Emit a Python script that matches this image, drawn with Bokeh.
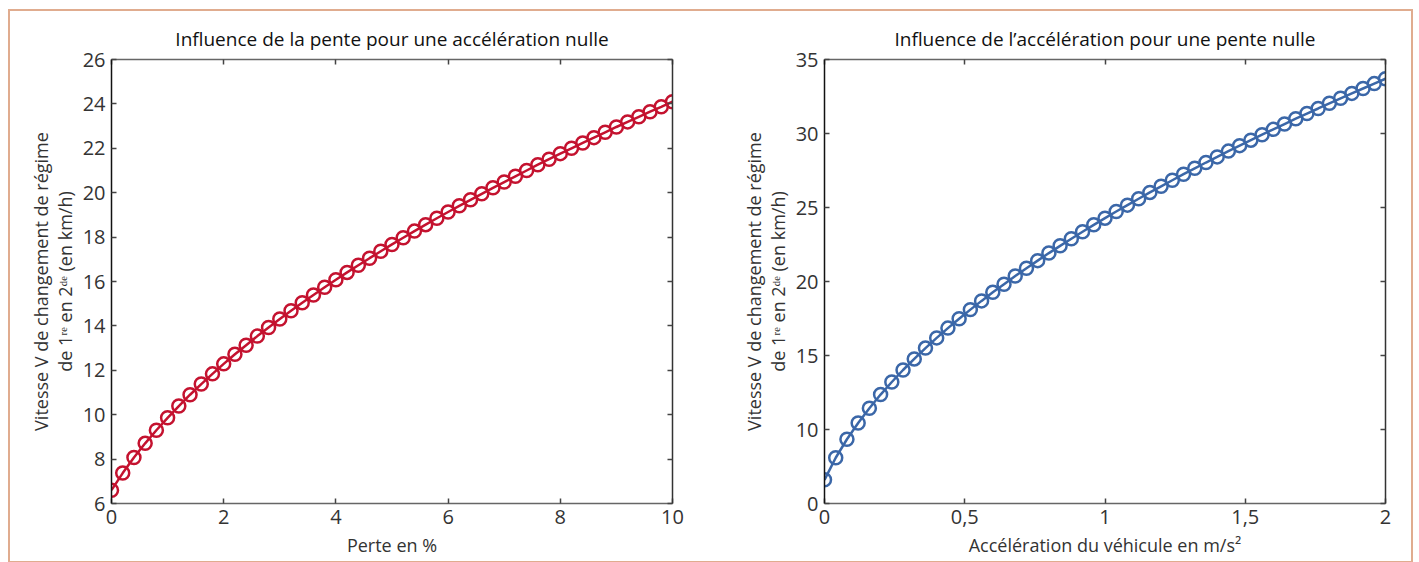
from bokeh.plotting import figure
from bokeh.layouts import row
from bokeh.models import LinearAxis, FixedTicker
from bokeh.embed import file_html
from bokeh.resources import INLINE

# ---- data ----
pente = [round(i * 0.2, 1) for i in range(51)]
vitesse_pente = [6.60, 7.37, 8.07, 8.71, 9.30, 9.86, 10.39, 10.90, 11.38, 11.84,
                 12.29, 12.72, 13.13, 13.54, 13.93, 14.31, 14.68, 15.04, 15.39, 15.74,
                 16.08, 16.41, 16.73, 17.05, 17.36, 17.67, 17.97, 18.27, 18.56, 18.85,
                 19.13, 19.41, 19.68, 19.95, 20.22, 20.48, 20.74, 21.00, 21.26, 21.51,
                 21.76, 22.00, 22.24, 22.48, 22.72, 22.96, 23.19, 23.42, 23.65, 23.87,
                 24.10]
accel = [round(i * 0.04, 2) for i in range(51)]
vitesse_accel = [6.60, 8.09, 9.34, 10.44, 11.44, 12.36, 13.21, 14.02, 14.77, 15.50,
                 16.19, 16.85, 17.48, 18.10, 18.69, 19.27, 19.82, 20.37, 20.90, 21.41,
                 21.92, 22.41, 22.89, 23.36, 23.83, 24.28, 24.73, 25.16, 25.59, 26.02,
                 26.43, 26.84, 27.25, 27.65, 28.04, 28.42, 28.81, 29.18, 29.55, 29.92,
                 30.28, 30.64, 31.00, 31.35, 31.69, 32.04, 32.38, 32.71, 33.04, 33.37,
                 33.70]

title1 = "Influence de la pente pour une accélération nulle"
title2 = "Influence de l\u2019accélération pour une pente nulle"
xlabel1 = "Perte en %"
xlabel2 = "Accélération du véhicule en m/s\u00b2"
ylabel = "Vitesse V de changement de régime\nde 1\u02b3\u1d49 en 2\u1d48\u1d49 (en km/h)"
x1_ticks = [0, 2, 4, 6, 8, 10]
y1_ticks = [6, 8, 10, 12, 14, 16, 18, 20, 22, 24, 26]
x2_ticks = [0, 0.5, 1, 1.5, 2]
x2_labels = {0: "0", 0.5: "0,5", 1: "1", 1.5: "1,5", 2: "2"}
y2_ticks = [5, 10, 15, 20, 25, 30, 35]
y2_labels = {5: "0"}

FONT = "Open Sans"
RED = "#c4122f"
BLUE = "#3b67a8"


def style_axis(ax, color, ticks=None):
    ax.axis_line_color = color
    ax.axis_line_width = 1.5
    ax.major_tick_in = 5
    ax.major_tick_out = 0
    ax.minor_tick_line_color = None
    ax.major_tick_line_color = "#444444"
    ax.major_tick_line_width = 1.5
    ax.major_label_text_font = FONT
    ax.major_label_text_font_size = "20px"
    ax.major_label_text_color = "#333333"
    ax.major_label_standoff = 6
    ax.axis_label_text_font = FONT
    ax.axis_label_text_font_size = "18px"
    ax.axis_label_text_font_style = "normal"
    ax.axis_label_text_color = "#333333"
    ax.axis_label_text_line_height = 1.0
    if ticks is not None:
        ax.major_label_overrides = {t: "" for t in ticks}
        ax.major_label_standoff = 0


def make(xs, ys, color, title, xlabel, xr, yr, xt, yt, xo, yo, w, bl, br):
    p = figure(width=w, height=550, x_range=xr, y_range=yr,
               output_backend="svg", toolbar_location=None,
               min_border_left=bl, min_border_right=br,
               min_border_top=48, min_border_bottom=58)
    p.title.text = title
    p.title.align = "center"
    p.title.text_font = FONT
    p.title.text_font_size = "19px"
    p.title.text_font_style = "normal"
    p.title.text_color = "#111111"
    p.title.standoff = 15
    p.grid.visible = False
    p.outline_line_color = None
    p.background_fill_color = "white"
    p.border_fill_color = "white"

    p.xaxis.ticker = FixedTicker(ticks=xt)
    p.yaxis.ticker = FixedTicker(ticks=yt)
    p.xaxis.axis_label = xlabel
    p.yaxis.axis_label = ylabel
    style_axis(p.xaxis[0], "#666666")
    style_axis(p.yaxis[0], "#111111")
    if xo:
        p.xaxis.major_label_overrides = xo
    if yo:
        p.yaxis.major_label_overrides = yo
    p.xaxis.axis_label_standoff = 6
    p.yaxis.axis_label_standoff = 3

    top = LinearAxis(ticker=FixedTicker(ticks=xt))
    style_axis(top, "#666666", ticks=xt)
    p.add_layout(top, "above")
    right = LinearAxis(ticker=FixedTicker(ticks=yt))
    style_axis(right, "#333333", ticks=yt)
    p.add_layout(right, "right")

    p.line(xs, ys, line_color=color, line_width=2.5)
    p.scatter(xs, ys, marker="circle", size=13, fill_color=None,
              line_color=color, line_width=2.5)
    return p


p1 = make(pente, vitesse_pente, RED, title1, xlabel1, (0, 10), (6, 26),
          x1_ticks, y1_ticks, None, None, 704, 101, 42)
p2 = make(accel, vitesse_accel, BLUE, title2, xlabel2, (0, 2), (5, 35),
          x2_ticks, y2_ticks, x2_labels, y2_labels, 697, 110, 26)

layout = row(p1, p2, styles={"border": "2px solid #e0ac8f",
                             "margin-left": "8px", "margin-top": "9px"})
open("out.html", "w").write(file_html(layout, INLINE))
